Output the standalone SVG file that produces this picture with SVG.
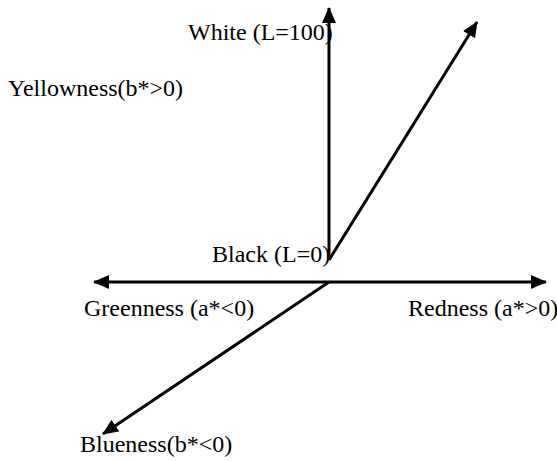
<svg xmlns="http://www.w3.org/2000/svg" width="557" height="461" viewBox="0 0 557 461">
<defs>
<marker id="ah" markerUnits="userSpaceOnUse" markerWidth="16" markerHeight="14" refX="15" refY="7" orient="auto">
<path d="M0,0 L16,7 L0,14 Z" fill="#000"/>
</marker>
<style>
.t{font-family:"Liberation Serif","Times New Roman",serif;font-size:24px;fill:#000}
.c{stroke:#000;stroke-width:3;fill:none}
</style>
</defs>
<rect width="557" height="461" fill="#fff"/>
<g id="connectors">
<line class="c" x1="329" y1="260" x2="329" y2="8" marker-end="url(#ah)"/>
<line class="c" x1="329" y1="260" x2="477" y2="22" marker-end="url(#ah)"/>
<line class="c" x1="329" y1="282" x2="94" y2="282" marker-end="url(#ah)"/>
<line class="c" x1="329" y1="282" x2="546" y2="282" marker-end="url(#ah)"/>
<line class="c" x1="329" y1="282" x2="103" y2="434" marker-end="url(#ah)"/>
</g>
<g id="white"><text class="t" x="188" y="40">White (L=100)</text></g>
<g id="yellowness"><text class="t" x="8" y="96">Yellowness(b*&gt;0)</text></g>
<g id="black"><text class="t" x="212" y="262">Black (L=0)</text></g>
<g id="greenness"><text class="t" x="84" y="316">Greenness (a*&lt;0)</text></g>
<g id="redness"><text class="t" x="408" y="316">Redness (a*&gt;0)</text></g>
<g id="blueness"><text class="t" x="80" y="452">Blueness(b*&lt;0)</text></g>
</svg>
